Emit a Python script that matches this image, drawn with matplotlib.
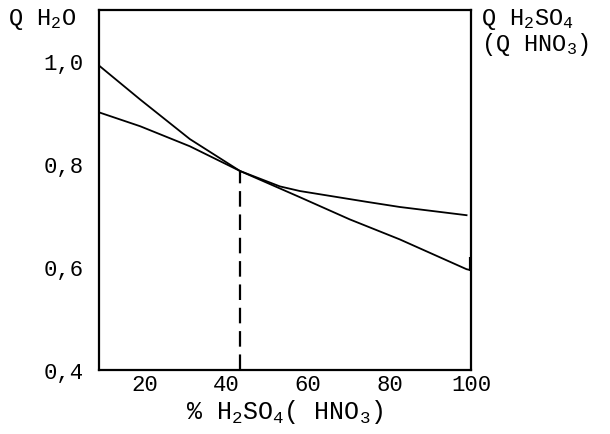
import matplotlib.pyplot as plt


RESULT_FILE_NAME = 'out.png'

# values (percent of acid vs relative Q)
ACID_PCT = [8.7, 18.8, 31.0, 43.3, 58.0, 70.2, 82.5, 98.9, 100.0]
Q_ACID = [0.992, 0.926, 0.849, 0.787, 0.736, 0.693, 0.654, 0.596, 0.594]

WATER_PCT = [8.7, 18.8, 31.0, 43.3, 53.1, 58.0, 74.4, 82.5, 98.9]
Q_WATER = [0.901, 0.874, 0.835, 0.787, 0.757, 0.748, 0.727, 0.717, 0.701]

# crossing point marked by the dashed line
CROSS_PCT = 43.3
CROSS_Q = 0.787

# short thick mark on the right axis at the end of the acid curve
END_MARK_PCT = 100.0
END_MARK_Q = (0.592, 0.619)

X_TICKS = [20, 40, 60, 80, 100]
Y_TICKS = [0.4, 0.6, 0.8, 1.0]
Y_TICK_LABELS = ['0,4', '0,6', '0,8', '1,0']

FONT = 'Liberation Mono'


def make_graph():
    plt.rcParams['font.family'] = [FONT, 'DejaVu Sans']
    plt.rcParams['mathtext.fontset'] = 'custom'
    plt.rcParams['mathtext.rm'] = FONT
    plt.rcParams['mathtext.it'] = FONT
    plt.rcParams['mathtext.bf'] = FONT

    fig = plt.figure(figsize=(6.1, 4.35), dpi=100)
    ax = fig.add_axes([0.1623, 0.1471, 0.6099, 0.8276])

    ax.plot(ACID_PCT, Q_ACID, color='black', lw=1.3)
    ax.plot(WATER_PCT, Q_WATER, color='black', lw=1.3)
    ax.plot([CROSS_PCT, CROSS_PCT], [0.4, CROSS_Q], color='black', lw=1.6,
            dashes=(7, 3.5))
    ax.plot([END_MARK_PCT, END_MARK_PCT], END_MARK_Q, color='black', lw=3,
            solid_capstyle='butt')

    ax.set_xlim(8.7, 100)
    ax.set_ylim(0.4, 1.1)

    for side in ax.spines.values():
        side.set_linewidth(1.6)

    ax.set_xticks(X_TICKS)
    ax.set_xticklabels([str(t) for t in X_TICKS])
    ax.set_yticks(Y_TICKS)
    ax.set_yticklabels(Y_TICK_LABELS)
    ax.tick_params(axis='x', length=0, pad=3, labelsize=16)
    ax.tick_params(axis='y', length=0, pad=11, labelsize=16)

    ax.set_xlabel('% H$_2$SO$_4$( HNO$_3$)', fontsize=18, labelpad=1)

    fig.text(8 / 610, 1 - 19 / 435, 'Q H$_2$O', fontsize=17, va='center')
    fig.text(481 / 610, 1 - 20 / 435, 'Q H$_2$SO$_4$', fontsize=17, va='center')
    fig.text(481 / 610, 1 - 45 / 435, '(Q HNO$_3$)', fontsize=17, va='center')

    fig.savefig(RESULT_FILE_NAME, dpi=100)


make_graph()
